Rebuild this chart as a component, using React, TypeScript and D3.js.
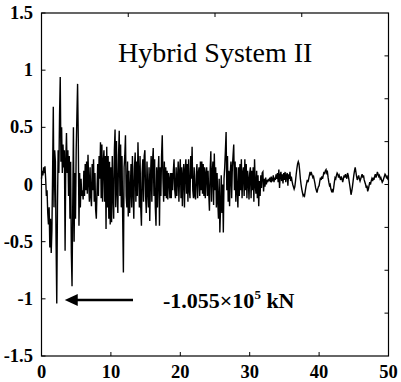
import React from "react";
import * as d3 from "d3";

const DT = 0.1;
// signal sampled every 0.1 s from t = 0 to t = 50 (units of 10^5 kN)
const signal: number[] = [
  0.05, 0.12, 0.08, 0.15, 0.1, 0.16, 0.05, -0.1, -0.05, -0.25,
  -0.35, -0.2, -0.55, -0.3, -0.6, -0.4, 0.1, 0.68, -0.2, 0.3,
  0.2, -0.5, -1.04, -0.2, 0.3, 0.1, 0.6, 0.94, 0.2, 0.5,
  0.1, 0.35, 0.15, 0.3, -0.58, 0.2, 0.45, 0.1, 0.3, -0.1,
  0.25, -0.3, 0.2, -0.6, -0.89, -0.2, 0.5, -0.5, 0.1, -0.3,
  0.3, 0.6, 0.88, 0.4, -0.36, 0.1, -0.2, 0.05, -0.1, -0.05,
  -0.13, 0.12, -0.1, 0.18, -0.05, 0.2, -0.08, 0.26, 0.02, -0.15,
  0.15, -0.1, -0.19, 0.18, -0.05, 0.22, -0.15, 0.1, -0.22, -0.3,
  -0.05, 0.18, -0.1, 0.25, 0.05, 0.37, -0.12, 0.35, -0.15, 0.2,
  0.3, -0.15, 0.25, -0.39, 0.33, -0.2, 0.25, -0.3, 0.2, -0.35,
  0.15, -0.33, 0.25, -0.1, -0.3, 0.3, 0.48, -0.2, 0.38, -0.05,
  -0.25, 0.25, 0.47, -0.1, 0.35, -0.2, 0.25, -0.3, -0.77, 0.15,
  0.25, 0.43, -0.1, -0.2, 0.2, -0.28, 0.12, -0.25, -0.05, 0.18,
  -0.2, 0.25, -0.05, -0.3, 0.15, 0.28, -0.15, 0.2, -0.1, 0.37,
  0.1, -0.2, 0.25, -0.2, -0.36, 0.1, 0.22, -0.15, 0.25, 0.3,
  -0.1, -0.25, 0.2, -0.05, -0.2, 0.15, -0.32, 0.05, 0.25, -0.15,
  0.2, 0.32, -0.1, 0.22, -0.2, -0.36, 0.15, -0.2, 0.1, 0.25,
  -0.36, 0.15, -0.1, 0.25, 0.43, 0.05, -0.15, 0.2, -0.1, 0.15,
  -0.12, 0.12, -0.13, 0.1, 0.05, -0.12, 0.1, -0.12, 0.1, -0.05,
  0.12, 0.22, -0.05, -0.12, 0.15, -0.1, 0.05, 0.2, -0.15, 0.1,
  0.22, -0.12, 0.15, -0.19, 0.08, 0.18, -0.2, 0.12, 0.22, -0.08,
  0.18, -0.15, 0.22, -0.05, -0.12, 0.25, 0.05, 0.33, -0.05, -0.12,
  0.15, -0.1, -0.13, 0.08, 0.18, -0.12, 0.1, 0.15, -0.1, 0.2,
  -0.05, 0.2, -0.08, 0.18, -0.1, 0.15, -0.12, 0.1, 0.15, -0.1,
  0.12, -0.08, -0.23, 0.12, 0.29, -0.15, 0.1, 0.2, -0.18, 0.27,
  -0.05, 0.15, -0.2, 0.1, -0.15, -0.3, 0.05, -0.42, -0.2, 0.08,
  -0.25, 0.0, -0.42, 0.05, 0.15, 0.3, 0.46, -0.05, 0.25, -0.15,
  0.12, -0.19, 0.1, 0.2, -0.12, 0.15, 0.25, 0.35, -0.05, 0.2,
  -0.15, 0.15, -0.05, -0.2, 0.15, -0.1, 0.18, -0.05, 0.22, -0.12,
  0.1, 0.15, -0.1, 0.22, -0.05, 0.18, -0.12, 0.12, 0.05, -0.13,
  0.1, 0.15, -0.12, 0.12, -0.05, 0.15, -0.15, 0.22, 0.0, -0.08,
  0.12, -0.12, 0.08, -0.19, 0.03, -0.1, 0.08, -0.03, 0.1, 0.11,
  -0.06, 0.05, -0.02, 0.06, 0.0, 0.04, 0.02, 0.05, 0.03, 0.06,
  0.02, 0.07, 0.03, 0.04, 0.08, 0.02, 0.06, 0.04, 0.09, 0.05,
  0.1, 0.02, 0.13, -0.03, 0.08, 0.11, 0.03, 0.09, 0.01, 0.1,
  0.04, 0.11, 0.02, 0.08, 0.1, -0.01, 0.09, 0.05, 0.11, 0.03,
  0.07, 0.03, 0.0, -0.02, -0.04, -0.02, 0.03, 0.09, 0.14, 0.18,
  0.2, 0.18, 0.12, 0.05, 0.0, -0.04, -0.07, -0.1, -0.09, -0.1,
  -0.06, -0.02, 0.01, 0.04, 0.02, 0.05, 0.08, 0.11, 0.09, 0.1,
  0.08, 0.06, 0.07, 0.04, 0.01, -0.03, -0.05, -0.07, -0.04, -0.02,
  -0.01, 0.03, 0.06, 0.04, 0.07, 0.05, 0.08, 0.11, 0.09, 0.12,
  0.13, 0.1, 0.11, 0.06, 0.02, -0.01, 0.0, -0.04, -0.06, -0.05,
  -0.07, -0.03, 0.02, 0.06, 0.05, 0.08, 0.1, 0.09, 0.06, 0.08,
  0.06, 0.04, 0.07, 0.05, 0.02, 0.05, 0.08, 0.06, 0.09, 0.07,
  0.05, 0.1, 0.08, 0.04, 0.0, -0.04, -0.09, -0.06, -0.02, 0.03,
  0.08, 0.12, 0.15, 0.11, 0.07, 0.04, 0.06, 0.08, 0.05, 0.03,
  0.05, 0.07, 0.09, 0.06, 0.08, 0.04, 0.02, 0.0, -0.03, -0.01,
  -0.06, -0.04, -0.01, 0.02, 0.0, 0.03, 0.05, 0.03, 0.06, 0.04,
  0.07, 0.09, 0.06, 0.08, 0.11, 0.09, 0.07, 0.08, 0.05, 0.06,
  0.04, 0.02, 0.03, 0.05, 0.07, 0.09, 0.08, 0.06, 0.07, 0.05,
  0.06,
];

const xDomain: [number, number] = [0, 50];
const yDomain: [number, number] = [-1.5, 1.5];
const xTickValues = [0, 10, 20, 30, 40, 50];
const yTickValues = [-1.5, -1, -0.5, 0, 0.5, 1, 1.5];
const topTickValues = [12.5, 25, 37.5];
const rightTickValues = [-1.125, -0.75, -0.375, 0, 0.375, 0.75, 1.125];
const yTickLabels = ["-1.5", "-1", "-0.5", "0", "0.5", "1", "1.5"];
const title = "Hybrid System II";
const peakValue = -1.055;
const peakTime = 2.2;

export default function App() {
  const W = 401, H = 382;
  const L = 41.5, R = 388.5, T = 13, B = 356;
  const x = d3.scaleLinear().domain(xDomain).range([L, R]);
  const y = d3.scaleLinear().domain(yDomain).range([B, T]);
  const line = d3
    .line<number>()
    .x((_, i) => x(i * DT))
    .y((d) => y(d));
  const tl = 4;
  const font = "'Liberation Serif', 'Times New Roman', serif";
  const arrowY = y(peakValue) - 5;
  const tipX = x(peakTime) + 8;
  return (
    <svg
      width={W}
      height={H}
      style={{ position: "absolute", left: 0, top: 0, background: "#fff" }}
    >
      <rect x={0} y={0} width={W} height={H} fill="#fff" />
      <path d={line(signal) || ""} fill="none" stroke="#000" strokeWidth={1.4} />
      <rect x={L} y={T} width={R - L} height={B - T} fill="none" stroke="#000" strokeWidth={1.2} />
      {xTickValues.map((v) => (
        <g key={"xt" + v}>
          <line x1={x(v)} x2={x(v)} y1={B} y2={B - tl} stroke="#000" />
          <text x={x(v)} y={378} textAnchor="middle" fontFamily={font} fontSize={18.5} fontWeight="bold">
            {v}
          </text>
        </g>
      ))}
      {topTickValues.map((v) => (
        <line key={"tt" + v} x1={x(v)} x2={x(v)} y1={T} y2={T + tl} stroke="#000" />
      ))}
      {yTickValues.map((v, i) => (
        <g key={"yt" + v}>
          <line x1={L} x2={L + tl} y1={y(v)} y2={y(v)} stroke="#000" />
          <text x={33} y={y(v) + 6} textAnchor="end" fontFamily={font} fontSize={18.5} fontWeight="bold">
            {yTickLabels[i]}
          </text>
        </g>
      ))}
      {rightTickValues.map((v) => (
        <line key={"rt" + v} x1={R} x2={R - tl} y1={y(v)} y2={y(v)} stroke="#000" />
      ))}
      <text x={118} y={62} fontFamily={font} fontSize={28}>
        {title}
      </text>
      <line x1={tipX + 10} x2={133} y1={arrowY} y2={arrowY} stroke="#000" strokeWidth={2.5} />
      <path
        d={`M${tipX},${arrowY} L${tipX + 13},${arrowY - 6} L${tipX + 13},${arrowY + 6} Z`}
        fill="#000"
      />
      <text x={163} y={308} fontFamily={font} fontSize={22} fontWeight="bold">
        -1.055×10
        <tspan dy={-9} fontSize={13}>5</tspan>
        <tspan dy={9}> kN</tspan>
      </text>
    </svg>
  );
}
